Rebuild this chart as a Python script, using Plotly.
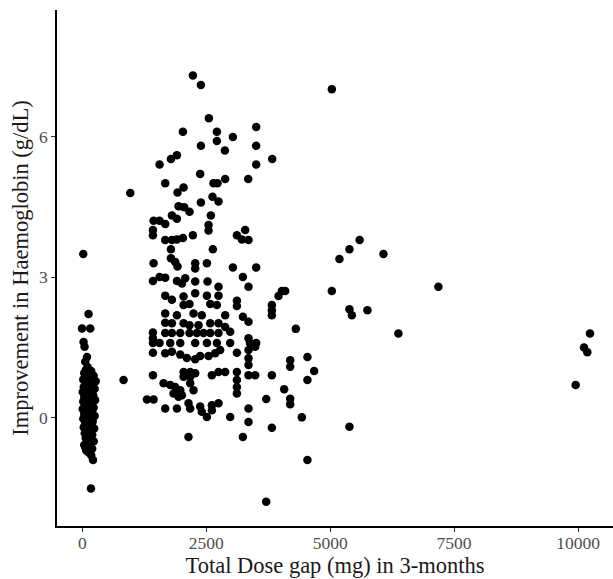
import plotly.graph_objects as go

# Patients with (almost) no dose gap
zero_gap = [
    (20, 3.50), (127, 2.22), (-6, 1.91), (161, 1.91), (26, 1.62), (46, 1.52),
    (95, 1.30), (60, 1.20), (110, 1.08), (70, 1.02), (180, 1.00), (40, 0.95), (130, 0.92),
    (230, 0.90), (90, 0.85), (20, 0.82), (160, 0.80), (270, 0.78), (60, 0.75), (120, 0.72),
    (200, 0.70), (30, 0.66), (150, 0.64), (250, 0.62), (80, 0.58), (10, 0.55), (180, 0.53),
    (110, 0.50), (220, 0.48), (40, 0.45), (140, 0.42), (70, 0.40), (260, 0.38), (20, 0.35),
    (190, 0.33), (100, 0.30), (50, 0.27), (150, 0.25), (230, 0.22), (10, 0.19), (80, 0.16),
    (200, 0.14), (120, 0.11), (40, 0.08), (170, 0.06), (250, 0.04), (90, 0.01), (20, -0.02),
    (140, -0.05), (210, -0.08), (60, -0.10), (110, -0.14), (180, -0.17), (30, -0.20),
    (240, -0.23), (90, -0.26), (150, -0.30), (50, -0.33), (200, -0.36), (120, -0.40),
    (70, -0.43), (170, -0.47), (230, -0.50), (100, -0.54), (40, -0.58), (150, -0.62),
    (200, -0.66), (80, -0.70), (130, -0.74), (60, -0.63), (180, -0.80), (216, -0.90),
    (175, -1.51),
]

# Main cluster (roughly 800 - 3600 mg)
main_cluster = [
    (968, 4.80), (833, 0.81),
    (2231, 7.31), (2393, 7.11), (2554, 6.40), (2030, 6.11), (2715, 6.11), (2715, 5.91),
    (3038, 6.00), (2393, 5.81), (2877, 5.71), (3508, 6.21), (3508, 5.81), (3831, 5.53),
    (1909, 5.61), (1788, 5.53), (1559, 5.41), (2379, 5.21), (3508, 5.41), (2883, 5.10),
    (3347, 5.10), (2647, 5.01), (2728, 5.01), (1673, 5.01), (2043, 4.92), (1921, 4.81),
    (2627, 4.72), (2748, 4.62), (2393, 4.60), (1942, 4.52), (2056, 4.50), (2163, 4.40),
    (2594, 4.32), (1808, 4.32), (1909, 4.25), (1438, 4.21), (1559, 4.21), (1673, 4.14),
    (1425, 4.01), (1425, 3.90), (2547, 4.12), (2547, 4.00), (2231, 3.90), (1673, 3.80),
    (1808, 3.80), (1909, 3.81), (2030, 3.84), (1788, 3.60), (2634, 3.60), (3119, 3.90),
    (3220, 3.81), (3353, 3.80), (3286, 4.01), (1788, 3.41), (1875, 3.33), (1438, 3.30),
    (2278, 3.30), (2278, 3.19), (2514, 3.30), (1921, 3.23), (3038, 3.21), (3508, 3.21),
    (3240, 3.01), (3353, 2.80), (1425, 2.92), (1559, 3.01), (1673, 2.99), (1909, 2.92),
    (2010, 2.87), (2077, 2.98), (2278, 2.91), (2527, 2.91), (2748, 2.80), (1673, 2.61),
    (1808, 2.52), (2043, 2.59), (2278, 2.66), (2514, 2.61), (2748, 2.61), (3119, 2.50),
    (3119, 2.39), (2043, 2.41), (2163, 2.43), (2581, 2.43), (2715, 2.41), (1673, 2.23),
    (1909, 2.19), (2244, 2.23), (2411, 2.19), (3240, 2.16), (3353, 2.05), (2883, 2.19),
    (1673, 2.03), (1808, 2.02), (2043, 2.02), (2163, 1.98), (2345, 1.98), (2581, 2.02),
    (2748, 2.02), (2883, 1.94), (2984, 1.84), (1425, 1.82), (1425, 1.70), (1673, 1.81),
    (1808, 1.81), (1976, 1.81), (2163, 1.81), (2312, 1.81), (2446, 1.81), (2581, 1.81),
    (2748, 1.81), (3353, 1.70), (1425, 1.60), (1559, 1.60), (1774, 1.60), (1976, 1.60),
    (2278, 1.60), (2514, 1.60), (2715, 1.60), (2984, 1.60), (3384, 1.60), (3508, 1.60),
    (1425, 1.39), (1673, 1.38), (1808, 1.41), (1976, 1.35), (2110, 1.28), (2278, 1.25),
    (2379, 1.32), (2547, 1.32), (2681, 1.38), (2782, 1.45), (3119, 1.39), (3353, 1.45),
    (3488, 1.52), (3353, 1.27), (3353, 1.13), (1425, 0.91), (2043, 0.98), (2177, 0.98),
    (2043, 0.88), (2177, 0.88), (2278, 0.95), (2177, 0.74), (2244, 0.59), (2614, 0.91),
    (2748, 0.98), (2883, 0.98), (3119, 0.98), (3119, 0.81), (3119, 0.66), (3119, 0.52),
    (3353, 0.91), (3488, 0.91), (3824, 0.91), (1640, 0.74), (1774, 0.70), (1875, 0.66),
    (1976, 0.59), (1841, 0.52), (1942, 0.45), (2010, 0.48), (1304, 0.39), (1438, 0.39),
    (1673, 0.20), (1909, 0.20), (2143, 0.31), (2177, 0.20), (2379, 0.24), (2411, 0.13),
    (2514, 0.02), (2614, 0.27), (2748, 0.31), (2614, 0.16), (2984, 0.02), (3353, 0.20),
    (3353, -0.09), (3824, -0.21), (2143, -0.41), (3240, -0.41),
]

# Higher dose gaps
high_dose = [
    (3824, 2.41), (3824, 2.30), (3824, 2.19), (3958, 2.60), (4026, 2.71), (4093, 2.71),
    (5389, 2.32), (5438, 2.19), (5752, 2.30), (6377, 1.80), (4308, 1.90), (4542, 1.30),
    (4677, 1.00), (4542, 0.81), (4194, 1.23), (4194, 1.09), (4073, 0.61), (3710, 0.40),
    (4194, 0.41), (4194, 0.29), (4429, 0.01), (5389, -0.19), (4542, -0.90), (3710, -1.79),
    (5034, 7.02), (6075, 3.50), (7184, 2.80), (10242, 1.80), (10121, 1.50), (10188, 1.40),
    (9953, 0.70), (5595, 3.80), (5389, 3.60), (5188, 3.39), (5034, 2.71),
]

x_ticks = [0, 2500, 5000, 7500, 10000]
y_ticks = [0, 3, 6]

points = zero_gap + main_cluster + high_dose
dose_gap = [p[0] for p in points]
hb_improvement = [p[1] for p in points]

fig = go.Figure(go.Scatter(
    x=dose_gap, y=hb_improvement, mode="markers",
    marker=dict(color="black", size=8.5, line=dict(width=0)),
    hoverinfo="x+y",
))

serif = "Liberation Serif, Times New Roman, serif"
axis_common = dict(
    showgrid=False, zeroline=False, showline=True, linecolor="black", linewidth=1.5,
    ticks="outside", ticklen=4, tickwidth=1.2, tickcolor="#333333",
    tickfont=dict(family=serif, size=17.5, color="#4d4d4d"),
)

fig.update_layout(
    width=613, height=579,
    margin=dict(l=57, r=0, t=10, b=53),
    plot_bgcolor="white", paper_bgcolor="white",
    showlegend=False,
    xaxis=dict(
        range=[-510, 10706], tickvals=x_ticks, ticktext=[str(v) for v in x_ticks],
        ticklabelstandoff=-4,
        title=dict(text="Total Dose gap (mg) in 3-months", standoff=5,
                   font=dict(family=serif, size=22.5, color="#1a1a1a")),
        **axis_common,
    ),
    yaxis=dict(
        range=[-2.31, 8.71], tickvals=y_ticks, ticktext=[str(v) for v in y_ticks],
        title=dict(text="Improvement in Haemoglobin (g/dL)", standoff=4,
                   font=dict(family=serif, size=22.5, color="#1a1a1a")),
        **axis_common,
    ),
)

fig.write_html("out.html")
